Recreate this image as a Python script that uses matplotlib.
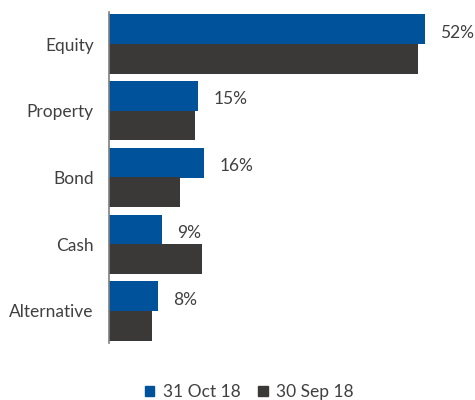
import numpy as np
import matplotlib
matplotlib.use("Agg")
import matplotlib.pyplot as plt
from matplotlib.patches import Patch

# data (% of portfolio)
categories = ["Equity", "Property", "Bond", "Cash", "Alternative"]
oct_18 = [52.0, 14.7, 15.7, 8.7, 8.0]
sep_18 = [50.8, 14.2, 11.7, 15.3, 7.0]
series_names = ["31 Oct 18", "30 Sep 18"]

blue = "#00539b"
grey = "#3a3937"
text_col = "#404040"

plt.rcParams["font.family"] = ["Lato", "DejaVu Sans"]

fig = plt.figure(figsize=(4.75, 4.0), dpi=100)
ax = fig.add_axes([0.2295, 0.1425, 0.7675, 0.8275])

y = np.arange(len(categories))
h = 0.443
ax.barh(y - h / 2, oct_18, height=h, color=blue, label=series_names[0])
ax.barh(y + h / 2, sep_18, height=h, color=grey, label=series_names[1])

# value labels for the latest month
for yi, v in zip(y, oct_18):
    ax.text(v + 2.5, yi - h / 2 + 0.05, f"{v:.0f}%", va="center", ha="left",
            fontsize=12.5, color=text_col)

ax.set_xlim(0, 60)
ax.set_ylim(len(categories) - 0.52, -0.48)
ax.set_yticks(y)
ax.set_yticklabels(categories, fontsize=12.5, color=text_col)
ax.tick_params(axis="y", length=0, pad=11)
ax.set_xticks([])

for s in ["top", "right", "bottom"]:
    ax.spines[s].set_visible(False)
ax.spines["left"].set_color("#7f7f7f")
ax.spines["left"].set_linewidth(1.2)

handles = [Patch(color=blue), Patch(color=grey)]
fig.legend(handles, series_names, loc="center", bbox_to_anchor=(0.525, 0.02),
           ncol=2, frameon=False, fontsize=12.5, handlelength=0.55, handleheight=0.55,
           handletextpad=0.5, columnspacing=1.0, labelcolor=text_col)

fig.savefig("out.png", dpi=100)
